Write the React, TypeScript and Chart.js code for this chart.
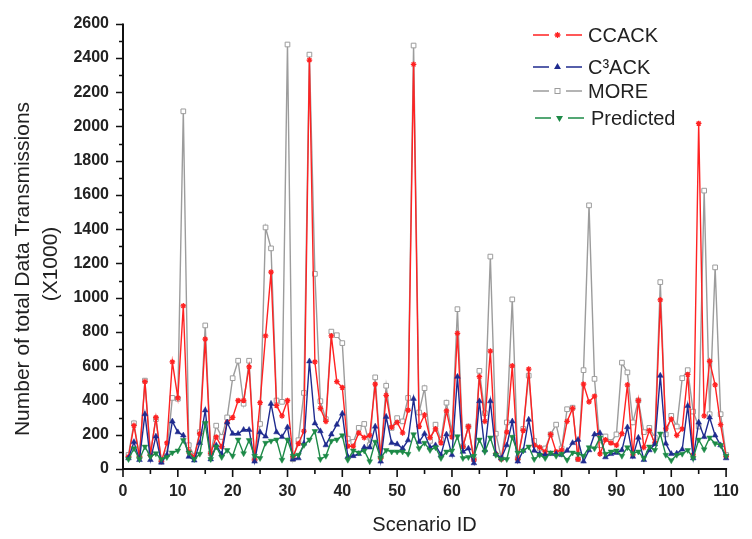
import React, { useEffect, useRef } from 'react';
import { Chart, registerables } from 'chart.js';

Chart.register(...registerables);

const SCENARIOS: number[] = Array.from({ length: 110 }, (_, i) => i + 1);

const CCACK = [72, 253, 72, 510, 82, 301, 44, 152, 625, 415, 952, 101, 72, 206, 758, 91, 187, 130, 272, 301,
  400, 400, 596, 53, 387, 777, 1149, 371, 310, 400, 72, 149, 221, 2387, 625, 354, 278, 777, 510, 476,
  133, 133, 210, 183, 196, 495, 63, 430, 244, 272, 211, 343, 2362, 248, 316, 183, 234, 152, 339, 187,
  792, 130, 248, 53, 539, 278, 688, 88, 57, 215, 602, 57, 225, 583, 139, 126, 101, 202, 101, 110,
  278, 354, 57, 495, 392, 425, 88, 171, 152, 139, 206, 491, 82, 400, 126, 225, 152, 987, 234, 291,
  196, 234, 552, 82, 2017, 310, 629, 491, 259, 72];

const C3ACK = [63, 158, 53, 320, 53, 190, 38, 82, 278, 215, 196, 72, 50, 152, 343, 57, 139, 86, 272, 206,
  206, 229, 229, 44, 215, 190, 381, 215, 187, 244, 57, 63, 149, 629, 267, 221, 139, 202, 259, 324,
  72, 76, 88, 126, 126, 248, 44, 305, 152, 145, 120, 168, 410, 158, 206, 126, 139, 82, 202, 82,
  539, 101, 120, 34, 396, 110, 396, 88, 63, 139, 278, 44, 107, 288, 107, 88, 82, 88, 88, 82,
  107, 152, 171, 44, 110, 202, 210, 69, 88, 95, 110, 244, 72, 183, 53, 110, 145, 545, 149, 88,
  91, 114, 368, 63, 272, 187, 301, 196, 139, 63];

const MORE = [82, 267, 72, 516, 91, 291, 44, 91, 415, 410, 2088, 139, 76, 215, 838, 91, 253, 187, 301, 530,
  632, 381, 632, 57, 263, 1410, 1288, 400, 392, 2478, 57, 168, 444, 2419, 1139, 396, 291, 802, 781, 735,
  177, 158, 240, 263, 139, 535, 72, 486, 240, 297, 278, 415, 2472, 330, 472, 164, 259, 171, 387, 210,
  933, 133, 248, 57, 573, 326, 1240, 206, 63, 272, 990, 63, 234, 545, 164, 120, 120, 202, 259, 120,
  349, 358, 57, 577, 1539, 526, 139, 190, 158, 202, 621, 564, 272, 400, 215, 240, 183, 1091, 202, 310,
  248, 530, 577, 335, 248, 1625, 320, 1177, 320, 82];

const PREDICTED = [57, 120, 57, 130, 72, 91, 57, 69, 95, 107, 168, 95, 57, 88, 267, 57, 130, 69, 110, 76,
  171, 91, 168, 76, 63, 152, 164, 171, 53, 171, 76, 82, 139, 171, 221, 57, 76, 164, 171, 196,
  53, 107, 95, 107, 44, 158, 63, 110, 101, 101, 101, 88, 202, 120, 152, 110, 126, 63, 101, 107,
  190, 63, 69, 76, 171, 101, 183, 82, 57, 57, 187, 95, 107, 130, 57, 82, 63, 95, 76, 88,
  53, 95, 88, 76, 126, 120, 183, 88, 101, 107, 76, 126, 91, 101, 63, 130, 110, 206, 82, 50,
  82, 88, 110, 63, 171, 114, 183, 149, 139, 76];

const X_MIN = 0;
const X_MAX = 110;
const X_STEP = 10;
const Y_MIN = 0;
const Y_MAX = 2600;
const Y_STEP = 200;

const X_TITLE = 'Scenario ID';
const Y_TITLE = ['Number of total Data Transmissions', '(X1000)'];

const SERIES_NAMES = ['CCACK', 'C\u00B3ACK', 'MORE', 'Predicted'];
const COLORS = ['#ff2222', '#1f2b8f', '#9c9c9c', '#1d8a47'];

const FONT = '"Liberation Sans", Arial, sans-serif';

function drawMarker(ctx: CanvasRenderingContext2D, kind: string, x: number, y: number, color: string) {
  ctx.save();
  ctx.fillStyle = color;
  ctx.strokeStyle = color;
  ctx.lineWidth = 1.3;
  if (kind === 'star') {
    const r = 3;
    ctx.beginPath();
    for (let i = 0; i < 4; i++) {
      const a = (i * Math.PI) / 4;
      ctx.moveTo(x - r * Math.cos(a), y - r * Math.sin(a));
      ctx.lineTo(x + r * Math.cos(a), y + r * Math.sin(a));
    }
    ctx.stroke();
  } else if (kind === 'tri' || kind === 'tridown') {
    const r = 4;
    const d = kind === 'tri' ? 1 : -1;
    ctx.beginPath();
    ctx.moveTo(x, y - d * r);
    ctx.lineTo(x + r * 0.87, y + d * r * 0.5);
    ctx.lineTo(x - r * 0.87, y + d * r * 0.5);
    ctx.closePath();
    ctx.fill();
  } else {
    ctx.fillStyle = '#fff';
    ctx.lineWidth = 1;
    ctx.fillRect(x - 2.5, y - 2.5, 5, 5);
    ctx.strokeRect(x - 2.5, y - 2.5, 5, 5);
  }
  ctx.restore();
}

const decorPlugin = {
  id: 'decor',
  beforeDatasetsDraw(chart: any) {
    const { ctx, chartArea, scales } = chart;
    const { left, right, top, bottom } = chartArea;
    const x = scales.x;
    const y = scales.y;
    ctx.save();
    ctx.strokeStyle = '#111';
    ctx.lineWidth = 2;
    ctx.beginPath();
    ctx.moveTo(left, top);
    ctx.lineTo(left, bottom);
    ctx.lineTo(right + 1, bottom);
    ctx.stroke();
    ctx.lineWidth = 1.6;
    ctx.beginPath();
    for (let v = Y_MIN; v <= Y_MAX; v += Y_STEP / 2) {
      const py = Math.round(y.getPixelForValue(v)) + 0.5;
      const len = v % Y_STEP === 0 ? 7 : 4;
      ctx.moveTo(left - len, py);
      ctx.lineTo(left, py);
    }
    for (let v = X_MIN; v <= X_MAX; v += X_STEP / 2) {
      const px = x.getPixelForValue(v);
      const len = v % X_STEP === 0 ? 8 : 5;
      ctx.moveTo(px, bottom);
      ctx.lineTo(px, bottom + len);
    }
    ctx.stroke();

    // y-axis title
    ctx.fillStyle = '#222';
    ctx.font = `21px ${FONT}`;
    ctx.textAlign = 'center';
    ctx.textBaseline = 'middle';
    ctx.save();
    ctx.translate(23, 269);
    ctx.rotate(-Math.PI / 2);
    ctx.fillText(Y_TITLE[0], 0, 0);
    ctx.restore();
    ctx.save();
    ctx.translate(51, 264);
    ctx.rotate(-Math.PI / 2);
    ctx.fillText(Y_TITLE[1], 0, 0);
    ctx.restore();
    ctx.restore();
  },
  afterDatasetsDraw(chart: any) {
    const { ctx } = chart;
    const rows = [
      { y: 35, x0: 533, kind: 'star', tx: 588 },
      { y: 67, x0: 533, kind: 'tri', tx: 588 },
      { y: 91, x0: 533, kind: 'square', tx: 588 },
      { y: 118, x0: 535, kind: 'tridown', tx: 591 },
    ];
    ctx.save();
    rows.forEach((r, i) => {
      const c = COLORS[i];
      ctx.strokeStyle = c;
      ctx.lineWidth = 1.5;
      ctx.beginPath();
      ctx.moveTo(r.x0, r.y);
      ctx.lineTo(r.x0 + 16, r.y);
      ctx.moveTo(r.x0 + 33, r.y);
      ctx.lineTo(r.x0 + 49, r.y);
      ctx.stroke();
      drawMarker(ctx, r.kind, r.x0 + 24.5, r.y, c);
      ctx.fillStyle = '#222';
      ctx.font = `20px ${FONT}`;
      ctx.textAlign = 'left';
      ctx.textBaseline = 'middle';
      ctx.fillText(SERIES_NAMES[i], r.tx, r.y + 1);
    });
    ctx.restore();
  },
};

function toPoints(values: number[]) {
  return SCENARIOS.map((s, i) => ({ x: s, y: values[i] }));
}

export default function App() {
  const canvasRef = useRef<HTMLCanvasElement | null>(null);

  useEffect(() => {
    const canvas = canvasRef.current;
    if (!canvas) return;
    const common = { borderWidth: 1.4, clip: false as any, tension: 0 };
    const chart = new Chart(canvas, {
      type: 'line',
      data: {
        datasets: [
          {
            ...common,
            label: SERIES_NAMES[2],
            data: toPoints(MORE),
            borderColor: COLORS[2],
            backgroundColor: '#ffffff',
            pointStyle: 'rect',
            pointRadius: 3.3,
            pointBorderWidth: 1,
            pointBorderColor: COLORS[2],
            order: 3,
          },
          {
            ...common,
            label: SERIES_NAMES[0],
            data: toPoints(CCACK),
            borderColor: COLORS[0],
            backgroundColor: COLORS[0],
            pointStyle: 'star',
            pointRadius: 2.8,
            pointBorderWidth: 1.3,
            order: 2,
          },
          {
            ...common,
            label: SERIES_NAMES[1],
            data: toPoints(C3ACK),
            borderColor: COLORS[1],
            backgroundColor: COLORS[1],
            pointStyle: 'triangle',
            pointRadius: 3.3,
            pointBorderWidth: 0.5,
            order: 1,
          },
          {
            ...common,
            label: SERIES_NAMES[3],
            data: toPoints(PREDICTED),
            borderColor: COLORS[3],
            backgroundColor: COLORS[3],
            pointStyle: 'triangle',
            pointRotation: 180,
            pointRadius: 3.3,
            pointBorderWidth: 0.5,
            order: 0,
          },
        ],
      },
      options: {
        animation: false,
        responsive: false,
        maintainAspectRatio: false,
        events: [],
        layout: { padding: { top: 14, right: 16, left: 0, bottom: 0 } },
        plugins: { legend: { display: false }, tooltip: { enabled: false } },
        scales: {
          x: {
            type: 'linear',
            min: X_MIN,
            max: X_MAX,
            grid: { display: false, drawTicks: false },
            border: { display: false },
            ticks: {
              stepSize: X_STEP,
              padding: 13,
              color: '#222',
              font: { family: FONT, size: 16, weight: 'bold' },
              maxRotation: 0,
              callback: (v: any) => String(v),
            },
            title: {
              display: true,
              text: X_TITLE,
              color: '#222',
              font: { family: FONT, size: 20, lineHeight: 1.2 },
              padding: { top: 0, bottom: 2 },
            },
            afterFit: (s: any) => { s.height = 70; },
          },
          y: {
            min: Y_MIN,
            max: Y_MAX,
            grid: { display: false, drawTicks: false },
            border: { display: false },
            ticks: {
              stepSize: Y_STEP,
              padding: 14,
              color: '#222',
              font: { family: FONT, size: 16, weight: 'bold' },
              callback: (v: any) => String(v),
            },
            afterFit: (s: any) => { s.width = 123; },
          },
        },
      },
      plugins: [decorPlugin],
    } as any);
    return () => chart.destroy();
  }, []);

  return (
    <div style={{ position: 'fixed', left: 0, top: 0, width: 752, height: 539, background: '#fff' }}>
      <canvas ref={canvasRef} width={752} height={539} style={{ width: 752, height: 539, display: 'block' }} />
    </div>
  );
}
